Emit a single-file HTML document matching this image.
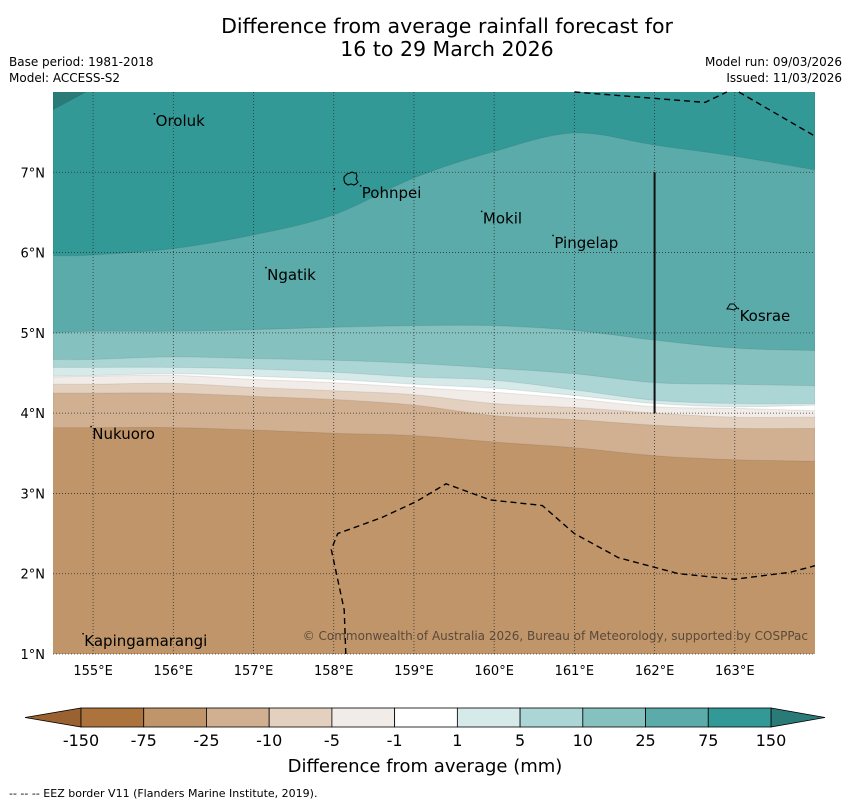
<!DOCTYPE html>
<html><head><meta charset="utf-8"><style>
body{margin:0;background:#fff;font-family:"Liberation Sans",sans-serif}
</style></head><body>
<svg id="chart" width="850" height="804" xmlns="http://www.w3.org/2000/svg" font-family="DejaVu Sans, Liberation Sans, sans-serif">
<text x="447" y="33" text-anchor="middle" font-size="20.5">Difference from average rainfall forecast for</text>
<text x="447" y="56" text-anchor="middle" font-size="20.5">16 to 29 March 2026</text>
<text x="9" y="66" font-size="12">Base period: 1981-2018</text>
<text x="9" y="82" font-size="12">Model: ACCESS-S2</text>
<text x="842" y="66" font-size="12" text-anchor="end">Model run: 09/03/2026</text>
<text x="842" y="82" font-size="12" text-anchor="end">Issued: 11/03/2026</text>
<defs><clipPath id="pc"><rect x="53" y="92" width="762" height="562"/></clipPath></defs>
<g id="plot" clip-path="url(#pc)"></g>
<g id="over"></g>
<g id="cbar"></g>
<text x="425" y="772" text-anchor="middle" font-size="18">Difference from average (mm)</text>
<text x="9" y="797" font-size="11">--  --  -- EEZ border V11 (Flanders Marine Institute, 2019).</text>
</svg>
<script>
const lons=[154.5,155,156,157,158,159,160,161,162,163,164];
const levels=["-25","-10","-5","-1","1","5","10","25","75","150"];
const bM25=[3.82,3.82,3.82,3.79,3.75,3.72,3.64,3.57,3.47,3.42,3.40];
const bM10=[4.25,4.25,4.25,4.21,4.17,4.10,3.97,3.92,3.85,3.81,3.81];
const bM5=[4.36,4.36,4.37,4.32,4.28,4.23,4.12,4.07,4.00,3.95,3.95];
const bM1=[4.45,4.46,4.47,4.42,4.38,4.32,4.26,4.18,4.08,4.06,4.03];
const bP1=[4.46,4.47,4.49,4.46,4.42,4.36,4.31,4.22,4.12,4.08,4.10];
const bP5=[4.57,4.57,4.57,4.55,4.51,4.45,4.41,4.29,4.16,4.12,4.12];
const bP10=[4.67,4.67,4.70,4.68,4.66,4.62,4.56,4.49,4.38,4.36,4.34];
const bP25=[5.00,5.02,5.02,5.04,5.07,5.09,5.09,5.03,4.91,4.81,4.78];
const bP75=[5.96,5.97,6.05,6.22,6.47,6.93,7.26,7.49,7.34,7.20,7.03];
const bP150=[7.78,8.05,8.6,8.6,8.6,8.6,8.6,8.6,8.6,8.6,8.6];
const bounds=[bM25,bM10,bM5,bM1,bP1,bP5,bP10,bP25,bP75,bP150];
const classColors=["#d1b092","#e3d0bf","#f1ece8","#ffffff","#d6eae9","#acd6d5","#85c1bf","#5aabaa","#339996","#2a7b78"];
const cbColors=["#ad733d","#c0956a","#d1b092","#e3d0bf","#f1ece8","#ffffff","#d6eae9","#acd6d5","#85c1bf","#5aabaa","#339996"];
const cbLabels=["-150","-75","-25","-10","-5","-1","1","5","10","25","75","150"];
const lonTicks=[155,156,157,158,159,160,161,162,163];
const latTicks=[7,6,5,4,3,2,1];
const places=[["Oroluk",155.78,7.575],["Pohnpei",158.35,6.68],["Mokil",159.86,6.36],["Pingelap",160.75,6.06],["Ngatik",157.17,5.66],["Kosrae",163.06,5.15],["Nukuoro",154.99,3.68],["Kapingamarangi",154.89,1.10]];
const eezBottom=[[158.15,1],[158.13,1.55],[157.97,2.3],[158.05,2.5],[158.6,2.7],[159.03,2.9],[159.4,3.12],[159.95,2.92],[160.6,2.85],[161,2.5],[161.55,2.2],[162.3,2.0],[163,1.93],[163.7,2.02],[164,2.1]];
const eezTop1=[[161,8],[162.63,7.87],[162.9,8]];
const eezTop2=[[163.05,8],[164,7.45]];
const NS="http://www.w3.org/2000/svg";
const X=lon=>53+(lon-154.5)*(762/9.5);
const Y=lat=>92+(8-lat)*(562/7);
function mk(tag,attrs,parent){const e=document.createElementNS(NS,tag);for(const k in attrs)e.setAttribute(k,attrs[k]);parent.appendChild(e);return e;}
function smoothPath(pts){
  let d="";
  for(let i=0;i<pts.length-1;i++){
    const p0=pts[Math.max(0,i-1)],p1=pts[i],p2=pts[i+1],p3=pts[Math.min(pts.length-1,i+2)];
    const c1=[p1[0]+(p2[0]-p0[0])/6,p1[1]+(p2[1]-p0[1])/6];
    const c2=[p2[0]-(p3[0]-p1[0])/6,p2[1]-(p3[1]-p1[1])/6];
    d+=` C${c1[0].toFixed(1)},${c1[1].toFixed(1)} ${c2[0].toFixed(1)},${c2[1].toFixed(1)} ${p2[0].toFixed(1)},${p2[1].toFixed(1)}`;
  }
  return d;
}
const plot=document.getElementById('plot');
let bg=mk('rect',{x:53,y:92,width:762,height:562,fill:"#c0956a"},plot);


bounds.forEach((b,i)=>{
  const pts=lons.map((lo,j)=>[X(lo),Y(b[j])]);
  let d="M"+X(lons[0])+","+Y(9)+" L"+pts[0][0].toFixed(1)+","+pts[0][1].toFixed(1)+smoothPath(pts);
  d+=" L"+X(lons[lons.length-1])+","+Y(9)+"Z";
  const p=mk('path',{d:d,fill:classColors[i],stroke:"rgba(0,0,0,0.08)","stroke-width":1},plot);
  
  
});
const over=document.getElementById('over');
lonTicks.forEach(lo=>{
  const l=mk('line',{x1:X(lo),x2:X(lo),y1:92,y2:654,stroke:"#333","stroke-width":0.8,"stroke-dasharray":"1,2"},over);
  
  
  const t=mk('text',{x:X(lo),y:675,"text-anchor":"middle","font-size":13},over);
  t.textContent=lo+"°E";
  
  
});
latTicks.forEach(la=>{
  const l=mk('line',{x1:53,x2:815,y1:Y(la),y2:Y(la),stroke:"#333","stroke-width":0.8,"stroke-dasharray":"1,2"},over);
  
  
  const t=mk('text',{x:45,y:Y(la)+5,"text-anchor":"end","font-size":13},over);
  t.textContent=la+"°N";
  
  
});
const vl=mk('line',{x1:X(162),x2:X(162),y1:Y(7),y2:Y(4),stroke:"#111","stroke-width":2},over);


[eezBottom,eezTop1,eezTop2].forEach((pts,i)=>{
  const p=mk('polyline',{points:pts.map(q=>X(q[0]).toFixed(1)+","+Y(q[1]).toFixed(1)).join(" "),fill:"none",stroke:"#000","stroke-width":1.4,"stroke-dasharray":"6,4"},over);
  
  
});
const ph=mk('path',{d:"M344,177 l3,-3 3,-1 2,-1 2,1 2,0 1,3 -1,3 2,3 -2,2 -2,1 -3,-1 -3,1 -3,-2 -1,-3z M334,190 l1,-2",fill:"none",stroke:"#000","stroke-width":1.1},over);


const ks=mk('path',{d:"M727,309 l3,-5 4,0 3,4 -3,2 -4,-1z",fill:"none",stroke:"#000","stroke-width":1},over);


places.forEach(p=>{
  const t=mk('text',{x:X(p[1]),y:Y(p[2]),"font-size":15},over);
  t.textContent=p[0];
  
  
  const d=mk('rect',{x:X(p[1])-2,y:Y(p[2])-13,width:1.5,height:1.5,fill:"#000"},over);
  
  
});
const cp=mk('text',{x:808,y:640,"text-anchor":"end","font-size":12,fill:"#5a4a3a"},over);
cp.textContent="© Commonwealth of Australia 2026, Bureau of Meteorology, supported by COSPPac";


const cb=document.getElementById('cbar');
const cx0=81,cx1=771,cy=708,ch=19,sw=(cx1-cx0)/cbColors.length;
const lt=mk('polygon',{points:`${cx0},${cy} ${cx0},${cy+ch} 25,${cy+ch/2}`,fill:"#9a6230",stroke:"#000","stroke-width":0.8},cb);


const rt=mk('polygon',{points:`${cx1},${cy} ${cx1},${cy+ch} 825,${cy+ch/2}`,fill:"#2a7b78",stroke:"#000","stroke-width":0.8},cb);


cbColors.forEach((c,i)=>{
  const r=mk('rect',{x:cx0+i*sw,y:cy,width:sw,height:ch,fill:c,stroke:"#000","stroke-width":0.8},cb);
  
  
});
cbLabels.forEach((s,i)=>{
  const t=mk('text',{x:cx0+i*sw,y:746,"text-anchor":"middle","font-size":16},cb);
  t.textContent=s;
  
  
});
</script>
</body></html>
